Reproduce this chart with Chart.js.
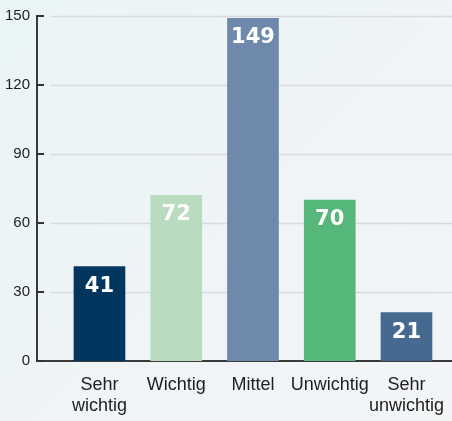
<!DOCTYPE html>
<html>
<head>
<meta charset="utf-8">
<script src="https://cdn.jsdelivr.net/npm/chart.js@4"></script>
<style>
  html, body { margin: 0; padding: 0; }
  body {
    width: 452px; height: 421px; overflow: hidden;
    background: linear-gradient(135deg, #e9f5f4 0%, #f0f4f6 60%, #f3f5f7 100%);
  }
  #wrap { position: relative; width: 452px; height: 421px; }
</style>
</head>
<body>
<div id="wrap"><canvas id="chart" width="452" height="421"></canvas></div>
<script>
// Kategorien und Werte
const kategorien = [['Sehr', 'wichtig'], 'Wichtig', 'Mittel', 'Unwichtig', ['Sehr', 'unwichtig']];
const werte = [41, 72, 149, 70, 21];
const farben = ['#02365f', '#b9dcc0', '#6f89ad', '#56b77a', '#45698f'];
const yTicks = [0, 30, 60, 90, 120, 150];

// Gitterlinien und kurze Striche nach innen an der Y-Achse
const gitterPlugin = {
    id: 'gitter',
    beforeDatasetsDraw(chart) {
        const ctx = chart.ctx;
        const y = chart.scales.y;
        const area = chart.chartArea;
        ctx.save();
        yTicks.forEach((v) => {
            const py = Math.round(y.getPixelForValue(v)) + 0.5;
            if (v > 0) {
                ctx.strokeStyle = '#d9dadb';
                ctx.lineWidth = 1.5;
                ctx.beginPath();
                ctx.moveTo(area.left + 14, py);
                ctx.lineTo(chart.width, py);
                ctx.stroke();
            }
        });
        ctx.restore();
    },
    afterDatasetsDraw(chart) {
        const ctx = chart.ctx;
        const y = chart.scales.y;
        const area = chart.chartArea;
        ctx.save();
        ctx.strokeStyle = '#333';
        ctx.lineWidth = 2;
        yTicks.forEach((v) => {
            const py = Math.round(y.getPixelForValue(v));
            ctx.beginPath();
            ctx.moveTo(area.left - 1, py);
            ctx.lineTo(area.left + 7, py);
            ctx.stroke();
        });
        // Werte in die Balken schreiben
        const meta = chart.getDatasetMeta(0);
        ctx.fillStyle = '#ffffff';
        ctx.font = 'bold 21px "DejaVu Sans"';
        ctx.textAlign = 'center';
        ctx.textBaseline = 'alphabetic';
        meta.data.forEach((bar, i) => {
            ctx.fillText(String(werte[i]), bar.x, bar.y + 25);
        });
        ctx.restore();
    }
};

const ctx = document.getElementById('chart').getContext('2d');
new Chart(ctx, {
    type: 'bar',
    data: {
        datasets: [{
            data: werte.map((v, i) => ({ x: i, y: v })),
            backgroundColor: farben,
            barThickness: 51,
            borderWidth: 0
        }]
    },
    options: {
        responsive: false,
        animation: false,
        layout: { padding: { top: 13, right: 0, left: 0, bottom: 0 } },
        plugins: { legend: { display: false }, tooltip: { enabled: false } },
        scales: {
            x: {
                type: 'linear',
                offset: false,
                min: -0.814,
                max: 4.593,
                afterFit: (s) => { s.height = 60; s.paddingLeft = 0; s.paddingRight = 0; },
                grid: { display: false, drawTicks: false, offset: false },
                border: { display: true, color: '#3a3a3a', width: 2 },
                ticks: {
                    stepSize: 1,
                    includeBounds: false,
                    autoSkip: false,
                    maxRotation: 0,
                    padding: 14,
                    color: '#1e1e1e',
                    font: { family: '"Liberation Sans", Arial, sans-serif', size: 18, lineHeight: 1.15 },
                    callback: (v) => Number.isInteger(v) ? kategorien[v] : ''
                }
            },
            y: {
                min: 0,
                max: 150,
                afterFit: (s) => { s.width = 37; },
                grid: { display: false, drawTicks: false },
                border: { display: true, color: '#3a3a3a', width: 2 },
                ticks: {
                    stepSize: 30,
                    padding: 7,
                    color: '#1e1e1e',
                    font: { family: '"Liberation Sans", Arial, sans-serif', size: 15 }
                }
            }
        }
    },
    plugins: [gitterPlugin]
});
</script>
</body>
</html>
